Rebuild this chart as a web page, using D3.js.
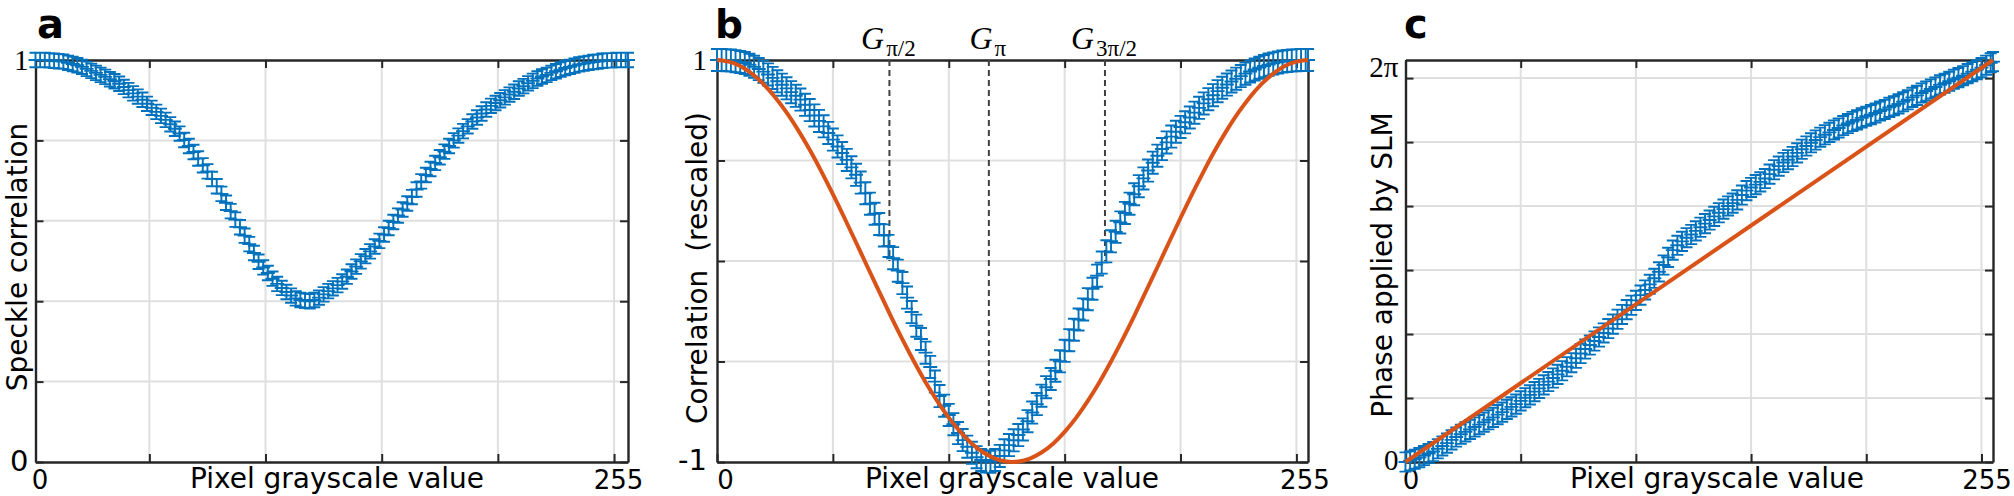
<!DOCTYPE html>
<html><head><meta charset="utf-8">
<script src="https://cdn.jsdelivr.net/npm/d3@7"></script>
<style>
html,body{margin:0;padding:0;background:#fff;}
svg{display:block;}
</style></head><body>
<svg id="chart" width="2014" height="496"></svg>
<script>
// ---------------- DATA ----------------
const grayLevels = d3.range(0, 255, 2).concat([255]);          // 0..254 step 2, 255
const grayLevelsA = d3.range(1, 256, 2).concat([256]);         // panel a uses 1-based index
const speckleCorr = [1.000,1.000,1.000,0.999,0.998,0.997,0.996,0.993,0.990,0.987,
0.983,0.978,0.973,0.968,0.963,0.958,0.952,0.947,0.941,0.933,
0.925,0.917,0.909,0.901,0.891,0.881,0.871,0.861,0.851,0.840,
0.829,0.817,0.801,0.786,0.771,0.755,0.738,0.723,0.704,0.686,
0.667,0.645,0.624,0.603,0.584,0.563,0.542,0.520,0.498,0.484,
0.470,0.456,0.443,0.433,0.423,0.414,0.407,0.403,0.401,0.400,
0.403,0.409,0.417,0.425,0.432,0.440,0.449,0.461,0.474,0.486,
0.499,0.512,0.524,0.536,0.550,0.566,0.582,0.597,0.613,0.628,
0.643,0.659,0.678,0.698,0.714,0.729,0.744,0.758,0.772,0.786,
0.800,0.812,0.823,0.835,0.847,0.857,0.867,0.877,0.886,0.893,
0.900,0.907,0.914,0.921,0.929,0.935,0.942,0.948,0.954,0.959,
0.963,0.968,0.972,0.976,0.980,0.983,0.986,0.989,0.991,0.993,
0.995,0.996,0.998,0.999,0.999,1.000,1.000,1.000,1.000];
const corrRescaled = [1.000,1.000,0.999,0.997,0.994,0.990,0.985,0.976,0.966,0.955,
0.942,0.928,0.911,0.894,0.877,0.859,0.840,0.822,0.803,0.777,
0.751,0.724,0.697,0.670,0.637,0.604,0.570,0.537,0.503,0.466,
0.429,0.390,0.337,0.285,0.235,0.184,0.127,0.075,0.014,-0.048,
-0.110,-0.182,-0.254,-0.322,-0.388,-0.456,-0.527,-0.600,-0.672,-0.720,
-0.766,-0.812,-0.856,-0.891,-0.924,-0.954,-0.976,-0.990,-0.998,-0.999,
-0.990,-0.970,-0.942,-0.916,-0.892,-0.866,-0.838,-0.797,-0.754,-0.712,
-0.670,-0.628,-0.587,-0.546,-0.499,-0.447,-0.394,-0.342,-0.291,-0.241,
-0.190,-0.138,-0.073,-0.008,0.048,0.098,0.145,0.192,0.239,0.285,
0.332,0.372,0.411,0.450,0.489,0.524,0.557,0.590,0.619,0.643,
0.667,0.690,0.714,0.738,0.762,0.784,0.805,0.825,0.845,0.862,
0.878,0.893,0.907,0.920,0.932,0.943,0.953,0.962,0.970,0.977,
0.983,0.988,0.992,0.995,0.997,0.999,1.000,1.000,1.000];
const phaseSLM = [0.000,0.019,0.044,0.069,0.101,0.132,0.163,0.207,0.251,0.295,
0.346,0.390,0.434,0.471,0.509,0.547,0.584,0.622,0.660,0.697,
0.741,0.779,0.823,0.861,0.905,0.955,1.005,1.049,1.100,1.150,
1.206,1.257,1.313,1.370,1.426,1.489,1.552,1.621,1.696,1.766,
1.828,1.891,1.954,2.017,2.086,2.155,2.231,2.306,2.381,2.450,
2.526,2.608,2.689,2.777,2.871,2.972,3.079,3.198,3.311,3.387,
3.449,3.506,3.556,3.613,3.669,3.726,3.782,3.839,3.896,3.952,
4.002,4.046,4.097,4.172,4.241,4.291,4.335,4.379,4.430,4.499,
4.568,4.624,4.681,4.725,4.775,4.832,4.888,4.939,4.989,5.033,
5.077,5.115,5.152,5.190,5.221,5.259,5.290,5.322,5.347,5.378,
5.404,5.429,5.454,5.485,5.510,5.542,5.567,5.598,5.630,5.661,
5.699,5.730,5.768,5.799,5.831,5.862,5.894,5.919,5.950,5.982,
6.007,6.038,6.070,6.101,6.132,6.164,6.202,6.239,6.258];
const errSpeckle = 0.018, errRescaled = 0.055, errPhase = 0.15;

const fitGray = d3.range(0, 256, 5);
const cosineFit = [1.000,0.992,0.970,0.932,0.881,0.816,0.739,0.651,0.553,0.446,
0.333,0.214,0.092,-0.031,-0.153,-0.274,-0.390,-0.500,-0.603,-0.696,
-0.779,-0.850,-0.909,-0.953,-0.983,-0.998,-0.998,-0.983,-0.953,-0.909,
-0.850,-0.779,-0.696,-0.603,-0.500,-0.390,-0.274,-0.153,-0.031,0.092,
0.214,0.333,0.446,0.553,0.651,0.739,0.816,0.881,0.932,0.970,
0.992,1.000];
const linearGray = [0, 255];
const linearPhase = [0, 6.2832];

const markerNames = ["π/2", "π", "3π/2"];
const markerGray = [74.4, 117.3, 167.4];
const markerTop = [1, 1, 1];
const markerBottom = [0, -1, 0];

const xTicksA = [1, 50, 100, 150, 200, 250];
const xTicks = [0, 50, 100, 150, 200, 250];
const xTickLabels = ["0", "", "", "", "", "255"];
const yTicksA = [0, 0.2, 0.4, 0.6, 0.8, 1];
const yTickLabelsA = ["0", "", "", "", "", "1"];
const yTicksB = [-1, -0.5, 0, 0.5, 1];
const yTickLabelsB = ["-1", "", "", "", "1"];
const yTicksC = [0, 1, 2, 3, 4, 5, 6];
const yTickLabelsC = ["0", "", "", "", "", "", "2π"];

// ---------------- DRAWING ----------------
const svg = d3.select('#chart');
const BLUE = '#0072BD', ORANGE = '#D95319', AXIS = '#262626', GRID = '#dfdfdf';
const SANS = "'DejaVu Sans', sans-serif", SERIF = "'Liberation Serif', serif";

function panel(cfg) {
  const x = d3.scaleLinear().domain(cfg.xDomain).range([cfg.left, cfg.right]);
  const y = d3.scaleLinear().domain(cfg.yDomain).range([cfg.bottom, cfg.top]);
  const g = svg.append('g');
  g.append('g').selectAll('line').data(cfg.xTicks.filter(d => Math.abs(x(d) - cfg.left) > 3 && Math.abs(x(d) - cfg.right) > 3))
    .join('line').attr('x1', d => x(d)).attr('x2', d => x(d)).attr('y1', cfg.top).attr('y2', cfg.bottom)
    .attr('stroke', GRID).attr('stroke-width', 2);
  g.append('g').selectAll('line').data(cfg.yTicks.filter(d => Math.abs(y(d) - cfg.top) > 3 && Math.abs(y(d) - cfg.bottom) > 3))
    .join('line').attr('y1', d => y(d)).attr('y2', d => y(d)).attr('x1', cfg.left).attr('x2', cfg.right)
    .attr('stroke', GRID).attr('stroke-width', 2);
  const TS = 8;
  const bottom = g.append('g').attr('transform', `translate(0,${cfg.bottom})`)
    .call(d3.axisBottom(x).tickValues(cfg.xTicks).tickFormat((d, i) => cfg.xLabels[i]).tickSizeInner(-TS).tickSizeOuter(0));
  bottom.selectAll('text').attr('dy', null).attr('y', 27).attr('dx', cfg.xLabelDx || 0)
    .style('font-family', SANS).style('font-size', '26px').attr('fill', '#000');
  g.append('g').attr('transform', `translate(0,${cfg.top})`)
    .call(d3.axisTop(x).tickValues(cfg.xTicks).tickFormat('').tickSizeInner(-TS).tickSizeOuter(0));
  const left = g.append('g').attr('transform', `translate(${cfg.left},0)`)
    .call(d3.axisLeft(y).tickValues(cfg.yTicks).tickFormat((d, i) => cfg.yLabels[i]).tickSizeInner(-TS).tickSizeOuter(0).tickPadding(cfg.yPad));
  left.selectAll('text').attr('fill', '#000').style('font-size', '29px')
    .style('font-family', (d, i) => cfg.yFonts[i] || SANS)
    .attr('dy', (d, i) => cfg.yDy[i] || '0.33em');
  g.append('g').attr('transform', `translate(${cfg.right},0)`)
    .call(d3.axisRight(y).tickValues(cfg.yTicks).tickFormat('').tickSizeInner(-TS).tickSizeOuter(0));
  g.selectAll('.domain').attr('stroke', AXIS).attr('stroke-width', 2.4);
  g.selectAll('.tick line').attr('stroke', AXIS).attr('stroke-width', 2);
  g.append('text').attr('x', cfg.xLabelX).attr('y', 488).attr('text-anchor', 'middle')
    .style('font-family', SANS).style('font-size', '28px').text('Pixel grayscale value');
  g.append('text').attr('transform', `translate(${cfg.yLabelX},${cfg.yLabelY}) rotate(-90)`).attr('text-anchor', 'middle')
    .style('font-family', SANS).style('font-size', '28px').style('white-space', 'pre').text(cfg.yLabel);
  g.append('text').attr('x', cfg.letterX).attr('y', 38).style('font-family', SANS).style('font-weight', 'bold')
    .style('font-size', cfg.letterSize + 'px').text(cfg.letter);
  return { x, y, g: g.append('g') };
}

function errorbars(p, xs, vs, err) {
  const m = 7, cap = 6;
  let d = '';
  xs.forEach((xv, i) => {
    const px = p.x(xv), py = p.y(vs[i]), y0 = p.y(vs[i] - err), y1 = p.y(vs[i] + err);
    d += `M${px},${y0}V${y1}M${px - cap},${y0}H${px + cap}M${px - cap},${y1}H${px + cap}M${px - m},${py}H${px + m}M${px},${py - m}V${py + m}`;
  });
  p.g.append('path').attr('d', d).attr('fill', 'none').attr('stroke', BLUE).attr('stroke-width', 1.9);
}

// Panel a
const pa = panel({ left: 35.5, right: 628, top: 60, bottom: 462, xDomain: [1, 256], yDomain: [0, 1],
  xTicks: xTicksA, xLabels: xTickLabels, yTicks: yTicksA, yLabels: yTickLabelsA, yPad: 7,
  yFonts: [SANS, '', '', '', '', SERIF], yDy: ['0.3em', '', '', '', '', '0.33em'], xLabelDx: 4,
  xLabelX: 337, yLabel: 'Speckle correlation', yLabelX: 27, yLabelY: 257, letter: 'a', letterX: 37, letterSize: 40 });
errorbars(pa, grayLevelsA, speckleCorr, errSpeckle);

// Panel b
const pb = panel({ left: 717, right: 1308, top: 60, bottom: 462, xDomain: [0, 255], yDomain: [-1, 1],
  xTicks: xTicks, xLabels: xTickLabels, yTicks: yTicksB, yLabels: yTickLabelsB, yPad: 10,
  yFonts: [SANS, '', '', '', SERIF], yDy: ['0.25em', '', '', '', '0.33em'], xLabelDx: 8,
  xLabelX: 1012, yLabel: 'Correlation  (rescaled)', yLabelX: 707, yLabelY: 268, letter: 'b', letterX: 715, letterSize: 39 });
pb.g.selectAll('line.gl').data(markerGray).join('line').attr('class', 'gl')
  .attr('x1', d => pb.x(d)).attr('x2', d => pb.x(d))
  .attr('y1', (d, i) => pb.y(markerTop[i])).attr('y2', (d, i) => pb.y(markerBottom[i]))
  .attr('stroke', '#404040').attr('stroke-width', 2).attr('stroke-dasharray', '6,4');
const gl = pb.g.selectAll('text.gl').data(markerGray).join('text').attr('class', 'gl')
  .attr('x', d => pb.x(d) - 1).attr('y', 49).attr('text-anchor', 'middle')
  .style('font-family', SERIF).style('font-size', '32px');
gl.append('tspan').style('font-style', 'italic').text('G');
gl.append('tspan').attr('dx', 2).attr('dy', 7).style('font-size', '23px').text((d, i) => markerNames[i]);
errorbars(pb, grayLevels, corrRescaled, errRescaled);
pb.g.append('path').datum(fitGray).attr('fill', 'none').attr('stroke', ORANGE).attr('stroke-width', 4)
  .attr('d', d3.line().x(d => pb.x(d)).y((d, i) => pb.y(cosineFit[i])).curve(d3.curveNatural));

// Panel c
const pc = panel({ left: 1405.5, right: 1993, top: 60, bottom: 462, xDomain: [0, 255], yDomain: [0, 2 * Math.PI],
  xTicks: xTicks, xLabels: xTickLabels, yTicks: yTicksC, yLabels: yTickLabelsC, yPad: 7,
  yFonts: [SERIF, '', '', '', '', '', SERIF], yDy: ['0.25em', '', '', '', '', '', '-0.05em'], xLabelDx: 5,
  xLabelX: 1717, yLabel: 'Phase applied by SLM', yLabelX: 1392, yLabelY: 265, letter: 'c', letterX: 1404, letterSize: 40 });
errorbars(pc, grayLevels, phaseSLM, errPhase);
pc.g.append('path').datum(linearGray).attr('fill', 'none').attr('stroke', ORANGE).attr('stroke-width', 4)
  .attr('d', d3.line().x(d => pc.x(d)).y((d, i) => pc.y(linearPhase[i])));
</script>
</body></html>
